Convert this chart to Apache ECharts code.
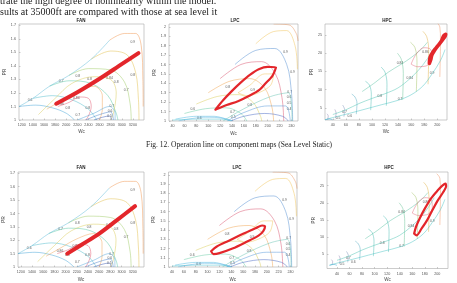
<!DOCTYPE html>
<html>
<head>
<meta charset="utf-8">
<title>Component maps</title>
<script src="https://cdn.jsdelivr.net/npm/echarts@6/dist/echarts.min.js"></script>
<style>body{margin:0;background:#fff}#main{width:457px;height:283px}</style>
</head>
<body>
<div id="main"></div>
<script>
// tick labels
var fanXTicks = [1200,1400,1600,1800,2000,2200,2400,2600,2800,3000,3200];
var fanYTicks = [1,1.1,1.2,1.3,1.4,1.5,1.6,1.7];
var lpcXTicks = [40,60,80,100,120,140,160,180,200,220,240];
var lpcYTicks = [1,1.1,1.2,1.3,1.4,1.5,1.6,1.7,1.8,1.9,2];
var hpcXTicks = [40,60,80,100,120,140,160,180,200];
var hpcYTicks = [5,10,15,20,25];

// FAN map (Wc, PR)
var fanSpeed = [
  [[1150,1.10],[1450,1.11],[1750,1.09],[2000,1.05],[2150,1.0]],
  [[1400,1.16],[1750,1.18],[2100,1.15],[2400,1.08],[2550,1.0]],
  [[1700,1.25],[2050,1.29],[2450,1.27],[2750,1.18],[2900,1.05],[2930,1.0]],
  [[2050,1.33],[2400,1.38],[2800,1.37],[3050,1.28],[3150,1.12],[3170,1.0]],
  [[2450,1.45],[2800,1.51],[3100,1.48],[3250,1.35],[3300,1.15],[3310,1.0]],
  [[2780,1.59],[3050,1.64],[3250,1.64],[3350,1.55],[3380,1.3],[3385,1.1]],
  [[1150,1.10],[1400,1.16],[1700,1.25],[2050,1.33],[2450,1.45],[2780,1.59]]
];
var fanEff = [
  [[1850,1.10],[2050,1.13],[2250,1.17],[2400,1.16],[2450,1.1],[2400,1.03],[2350,1.0]],
  [[1650,1.08],[1900,1.14],[2200,1.21],[2500,1.25],[2650,1.18],[2650,1.08],[2600,1.0]],
  [[1500,1.04],[1800,1.16],[2100,1.27],[2500,1.32],[2800,1.3],[2900,1.2],[2850,1.05],[2800,1.0]],
  [[2200,1.0],[2500,1.05],[2780,1.1],[2880,1.05],[2880,1.0]],
  [[2350,1.0],[2600,1.04],[2800,1.06],[2850,1.0]],
  [[2500,1.0],[2650,1.02],[2780,1.03],[2820,1.0]]
];
var fanLabels = [
  [1350,1.145,'0.6'],[1910,1.285,'0.7'],[2210,1.325,'0.8'],[2420,1.30,'0.8'],[2780,1.31,'0.84'],
  [3200,1.575,'0.9'],[3200,1.33,'0.8'],[3080,1.225,'0.7'],[2900,1.28,'0.8'],[1900,1.12,'0.86'],
  [2180,1.16,'0.84'],[2030,1.09,'0.8'],[2210,1.04,'0.7'],[2390,1.09,'0.8'],
  [2780,1.03,'0.5'],[2790,1.065,'0.6'],[2820,1.10,'0.7']
];
var fanOpTop = [[1820,1.12],[2200,1.205],[2600,1.305],[2950,1.40],[3300,1.495]];
var fanOpBot = [[2030,1.10],[2300,1.17],[2600,1.25],[2900,1.345],[3240,1.455]];

// LPC map
var lpcSpeed = [
  [[45,1.02],[80,1.05],[110,1.05],[130,1.02],[138,1.0]],
  [[60,1.08],[95,1.13],[130,1.14],[155,1.08],[165,1.0]],
  [[80,1.18],[115,1.26],[150,1.28],[175,1.2],[188,1.05],[190,1.0]],
  [[100,1.3],[135,1.42],[170,1.45],[195,1.35],[207,1.15],[210,1.0]],
  [[120,1.45],[155,1.6],[190,1.63],[213,1.5],[224,1.25],[227,1.0]],
  [[145,1.6],[180,1.75],[212,1.77],[232,1.6],[240,1.3],[242,1.0]],
  [[180,1.82],[210,1.95],[232,1.96],[246,1.8],[250,1.55]],
  [[210,2.03],[236,2.02],[248,1.93],[251,1.85]]
];
var lpcEff = [
  [[150,1.30],[170,1.38],[195,1.5],[210,1.5],[205,1.38],[185,1.3],[165,1.27],[150,1.30]],
  [[138,1.0],[160,1.05],[195,1.08],[225,1.05],[235,1.0]],
  [[132,1.0],[160,1.09],[200,1.16],[230,1.16],[238,1.0]],
  [[125,1.0],[160,1.13],[205,1.26],[235,1.3],[241,1.0]],
  [[40,1.01],[80,1.02],[120,1.02],[140,1.0]],
  [[50,1.0],[95,1.04],[125,1.03],[141,1.0]]
];
var lpcLabels = [
  [74,1.13,'0.6'],[133,1.36,'0.8'],[175,1.33,'0.9'],[170,1.17,'0.8'],[141,1.10,'0.7'],
  [230,1.73,'0.9'],[242,1.52,'0.9'],[237,1.31,'0.7'],[236,1.25,'0.6'],[236,1.19,'0.5'],
  [236,1.13,'0.4'],[142,1.04,'0.5'],[85,1.03,'0.6']
];
var lpcOpTop = [[112,1.12],[125,1.22],[140,1.32],[155,1.41],[170,1.49],[185,1.55],[200,1.575],[214,1.57],
  [208,1.48],[195,1.39],[186,1.33],[170,1.27],[150,1.21],[131,1.17],[118,1.135],[112,1.12]];
var lpcOpBot = [[106,1.17],[115,1.22],[136,1.285],[160,1.36],[181,1.42],[192,1.45],[197,1.44],[194,1.39],
  [186,1.34],[165,1.27],[142,1.2],[120,1.15],[110,1.14],[106,1.17]];

// HPC map
var hpcSpeed = [
  [[32,1.9],[33,2.8],[31,3.4]],
  [[44,2.2],[45,3.6],[43,4.6]],
  [[57,2.6],[58,4.6],[55,5.8]],
  [[76,3.3],[77,6.3],[74,8.0],[69,8.8]],
  [[98,4.4],[99,8.8],[96,11.3],[90,12.3]],
  [[122,5.6],[123,11.5],[120,14.8],[114,16.2]],
  [[147,7.2],[148,14.5],[145,18.3],[139,20]],
  [[168,9.5],[169,17.5],[166,21.5],[159,23]],
  [[186,11.5],[187,20.5],[184,24.5],[178,26]],
  [[204,13.5],[205,23.5],[204,27.2],[199,28.5]]
];
var hpcEff = [
  [[28,1.8],[45,2.6],[65,3.5],[90,4.7],[115,5.9],[140,7.1],[160,8.6],[178,11],[192,14.3],[205,18],[212,21]],
  [[40,3.2],[60,4.5],[80,6.2],[100,7.6],[120,8.9],[140,10.5],[158,13],[172,15.5],[185,18.5],[195,21.5]],
  [[85,9.5],[105,12],[125,14.8],[145,17],[160,18.8],[175,21],[185,23]],
  [[160,17],[168,19.8],[180,21.5],[190,21],[192,18.5],[183,16.5],[170,16.3],[160,17]],
  [[28,1.7],[35,2.0],[40,1.7]]
];
var hpcLabels = [
  [48,2.1,'0.5'],[58,3.9,'0.7'],[66,2.8,'0.6'],[112,8.3,'0.8'],[143,7.4,'0.7'],
  [158,13.3,'0.84'],[192,14.6,'0.9'],[143,17.4,'0.84'],[182,20.2,'0.86']
];
var hpcOpTop = [[188,17.2],[189,18.8],[193,20.2],[200,21.8],[207,23.4],[212,24.6],[213,25.2],[210,24.8],
  [206,23.2],[199,21.6],[192,19.6],[190,18.2],[188,17.2]];
var hpcOpBot = [[163,11],[166,13],[172,15.5],[180,18.3],[190,21.3],[200,23.5],[208,25],[213,25.6],[214,24.8],
  [209,23],[200,20.5],[192,17.8],[184,15],[175,12.5],[167,10.5],[163,11]];

// line colours
var fanSpeedColors = ['#3a9fd6','#45b8c8','#50c4a0','#9cc860','#e0bc40','#f09048','#58b8d8'];
var fanEffColors = ['#e0506a','#f0a050','#d8c850','#4aa0d8','#3d78c8','#3050b0'];
var lpcSpeedColors = ['#45b5e0','#60c8a0','#d8cc50','#f0a048','#d84c68','#4a88d0','#f0c050','#e89058'];
var lpcEffColors = ['#f0c050','#3d60c0','#4a90d8','#60c0b0','#40c0d0','#50b0e0'];
var hpcSpeedColors = ['#8a7fb0','#8a7fb0','#7a90b8','#50a8c0','#40b8b0','#40b8b0','#60c090','#a0c060','#e0b040','#f09060'];
var hpcEffColors = ['#40c0c0','#45c0b0','#55c0a0','#e06070','#30a0d0'];

var chart = echarts.init(document.getElementById('main'));
var grids = [], xAxes = [], yAxes = [], series = [];
var tickFont = 'Liberation Sans';
function plain(v) { return String(v); }

function panel(i, box, xr, yr, xt, yt, yGap, xGap, map, op, opW) {
  grids.push({left: box[0], top: box[1], width: box[2], height: box[3], show: true,
    borderColor: '#aaa', borderWidth: 0.6});
  xAxes.push({gridIndex: i, type: 'value', min: xr[0], max: xr[1],
    name: 'Wc', nameLocation: 'middle', nameGap: xGap,
    nameTextStyle: {fontSize: 4.5, color: '#444', fontFamily: tickFont},
    axisLine: {show: false}, splitLine: {show: false},
    axisTick: {inside: true, length: 1.5, customValues: xt, lineStyle: {color: '#999', width: 0.5}},
    axisLabel: {customValues: xt, fontSize: 3.7, color: '#555', margin: 3, fontFamily: tickFont, formatter: plain}});
  yAxes.push({gridIndex: i, type: 'value', min: yr[0], max: yr[1],
    name: 'PR', nameLocation: 'middle', nameGap: yGap,
    nameTextStyle: {fontSize: 4.5, color: '#444', fontFamily: tickFont},
    axisLine: {show: false}, splitLine: {show: false},
    axisTick: {inside: true, length: 1.5, customValues: yt, lineStyle: {color: '#999', width: 0.5}},
    axisLabel: {customValues: yt, fontSize: 3.7, color: '#555', margin: 3, fontFamily: tickFont, formatter: plain}});
  map.lines.forEach(function (pts, k) {
    series.push({type: 'line', xAxisIndex: i, yAxisIndex: i, data: pts, showSymbol: false,
      smooth: 0.35, silent: true, lineStyle: {width: 0.55, color: map.colors[k], opacity: 0.85}});
  });
  series.push({type: 'scatter', xAxisIndex: i, yAxisIndex: i, symbolSize: 0, silent: true,
    data: map.labels,
    label: {show: true, position: 'inside', fontSize: 3.4, color: '#333', fontFamily: tickFont,
      backgroundColor: '#fff', padding: 0,
      formatter: function (p) { return p.value[2]; }}});
  series.push({type: 'line', xAxisIndex: i, yAxisIndex: i, data: op, showSymbol: false,
    smooth: 0.3, silent: true, z: 5, lineStyle: {width: opW, color: '#e3262b', cap: 'round', join: 'round'}});
}

var fanMap = {lines: fanSpeed.concat(fanEff), colors: fanSpeedColors.concat(fanEffColors), labels: fanLabels};
var lpcMap = {lines: lpcSpeed.concat(lpcEff), colors: lpcSpeedColors.concat(lpcEffColors), labels: lpcLabels};
var hpcMap = {lines: hpcSpeed.concat(hpcEff), colors: hpcSpeedColors.concat(hpcEffColors), labels: hpcLabels};

panel(0, [19, 24, 125, 96], [1150, 3400], [1, 1.71], fanXTicks, fanYTicks, 12, 9, fanMap, fanOpTop, 4);
panel(1, [169, 24, 129, 97], [34, 251], [1, 2.03], lpcXTicks, lpcYTicks, 12, 10, lpcMap, lpcOpTop, 2.2);
panel(2, [325, 24, 122, 96], [28, 215], [1.7, 28], hpcXTicks, hpcYTicks, 8.5, 9, hpcMap, hpcOpTop, 3.6);
panel(3, [18, 172, 126, 98], [1150, 3400], [1, 1.71], fanXTicks, fanYTicks, 11, 10, fanMap, fanOpBot, 4);
panel(4, [168.5, 172, 128.5, 98], [34, 251], [1, 2.03], lpcXTicks, lpcYTicks, 12, 10, lpcMap, lpcOpBot, 2.2);
panel(5, [327, 172, 121, 98], [24, 217], [0.8, 29], hpcXTicks, hpcYTicks, 10, 8.5, hpcMap, hpcOpBot, 2.2);

function txt(x, y, s, font, align) {
  return {type: 'text', x: x, y: y, silent: true,
    style: {text: s, font: font, fill: '#222', textAlign: align || 'center', textVerticalAlign: 'middle'}};
}
var serif = '10px "Liberation Serif"';
var ttl = 'bold 4.5px "Liberation Sans"';

chart.setOption({
  animation: false,
  backgroundColor: '#fff',
  grid: grids, xAxis: xAxes, yAxis: yAxes, series: series,
  graphic: [
    txt(0, 1, 'trate the high degree of nonlinearity within the model.', serif, 'left'),
    txt(0, 12, 'sults at 35000ft are compared with those at sea level it', serif, 'left'),
    txt(239, 145, 'Fig. 12. Operation line on component maps (Sea Level Static)', '7.5px "Liberation Serif"'),
    txt(81, 21, 'FAN', ttl), txt(235, 21, 'LPC', ttl), txt(387, 21, 'HPC', ttl),
    txt(81, 168, 'FAN', ttl), txt(237, 168, 'LPC', ttl), txt(389, 168, 'HPC', ttl)
  ]
});
</script>
</body>
</html>
